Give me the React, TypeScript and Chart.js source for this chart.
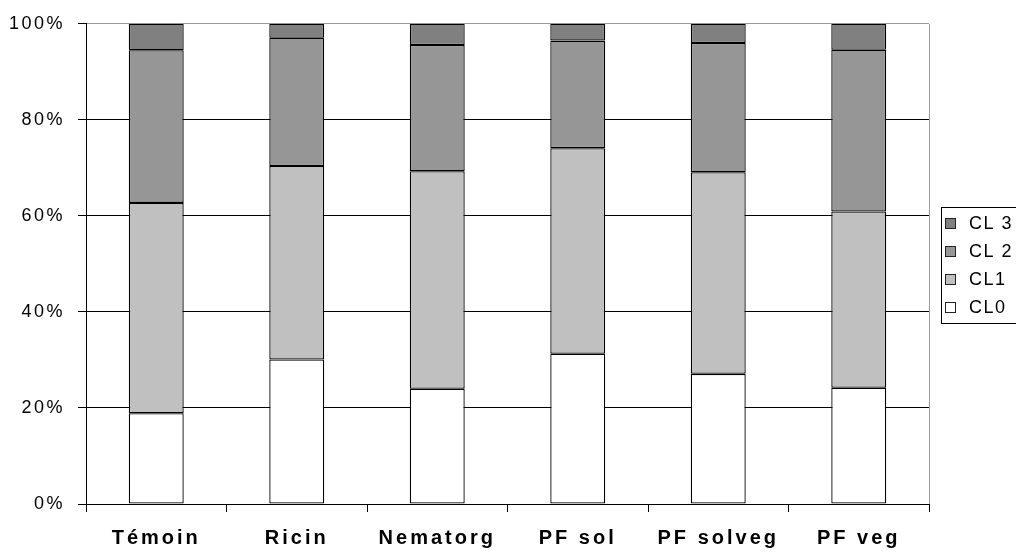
import React, { useEffect, useRef } from "react";
import { Chart, registerables } from "chart.js";

Chart.register(...registerables);

// ---- Data (percent of each class per treatment) ----
const categories = ["Témoin", "Ricin", "Nematorg", "PF sol", "PF solveg", "PF veg"];
const seriesLabels = ["CL0", "CL1", "CL 2", "CL 3"];
const cl0 = [18.9, 30.1, 24.0, 31.3, 27.1, 24.2];
const cl1 = [43.8, 40.3, 45.3, 42.8, 42.0, 36.7];
const cl2 = [31.8, 26.7, 26.3, 22.4, 26.9, 33.7];
const cl3 = [5.5, 2.9, 4.4, 3.5, 4.0, 5.4];
const yTickValues = [0, 20, 40, 60, 80, 100];

const seriesColors = ["#FFFFFF", "#C0C0C0", "#969696", "#808080"];
const FONT = "'Liberation Sans', Arial, sans-serif";

const decorPlugin = {
  id: "decor",
  beforeDraw(chart: any) {
    chart.ctx.letterSpacing = "2.5px"; // y tick labels
  },
  afterDatasetsDraw(chart: any) {
    chart.ctx.letterSpacing = "3px"; // x tick labels (z = 1)
  },
  afterDraw(chart: any) {
    const ctx = chart.ctx;
    const area = chart.chartArea;
    ctx.save();
    // grey plot-area border on the right side
    ctx.strokeStyle = "#999999";
    ctx.lineWidth = 1;
    ctx.beginPath();
    ctx.moveTo(Math.round(area.right) + 0.5, Math.round(area.top));
    ctx.lineTo(Math.round(area.right) + 0.5, Math.round(area.bottom));
    ctx.stroke();

    // legend (reverse order)
    const lx = Math.round(area.right) + 12;
    const firstY = 223;
    const step = 28;
    ctx.strokeStyle = "#000000";
    ctx.strokeRect(lx + 0.5, firstY - 16 + 0.5, 200, step * 3 + 32);
    ctx.letterSpacing = "1.5px";
    ctx.font = `18px ${FONT}`;
    ctx.textBaseline = "middle";
    ctx.textAlign = "left";
    const ds = chart.data.datasets;
    for (let k = 0; k < ds.length; k++) {
      const d = ds[ds.length - 1 - k];
      const cy = firstY + k * step;
      ctx.fillStyle = d.backgroundColor;
      ctx.fillRect(lx + 4, cy - 5, 11, 11);
      ctx.strokeStyle = "#222222";
      ctx.strokeRect(lx + 4.5, cy - 4.5, 10, 10);
      ctx.fillStyle = "#000000";
      ctx.fillText(d.label, lx + 28, cy + 1);
    }
    ctx.restore();
    ctx.letterSpacing = "0px";
  },
};

export default function App() {
  const canvasRef = useRef<HTMLCanvasElement | null>(null);

  useEffect(() => {
    if (!canvasRef.current) return;
    const series = [cl0, cl1, cl2, cl3];
    const chart = new Chart(canvasRef.current, {
      type: "bar",
      data: {
        labels: categories,
        datasets: series.map((values, i) => ({
          label: seriesLabels[i],
          data: values,
          backgroundColor: seriesColors[i],
          borderColor: "#000000",
          borderWidth: 1.3,
          borderSkipped: false,
          barPercentage: 0.391,
          categoryPercentage: 1,
        })),
      },
      options: {
        animation: false,
        responsive: true,
        maintainAspectRatio: false,
        devicePixelRatio: 1,
        layout: { padding: { left: 0, right: 87, top: 23, bottom: 0 } },
        plugins: {
          legend: { display: false },
          tooltip: { enabled: false },
          title: { display: false },
        },
        scales: {
          x: {
            stacked: true,
            offset: true,
            grid: {
              offset: true,
              drawOnChartArea: false,
              drawTicks: true,
              tickLength: 8,
              color: "#000000",
              tickColor: "#000000",
            },
            border: { display: true, color: "#000000", width: 1 },
            ticks: {
              z: 1,
              color: "#000000",
              padding: 14,
              maxRotation: 0,
              autoSkip: false,
              font: { family: FONT, size: 20, weight: "bold" },
            },
            afterFit: (scale: any) => {
              scale.height = 48;
            },
          },
          y: {
            stacked: true,
            min: 0,
            max: 100,
            afterBuildTicks: (scale: any) => {
              scale.ticks = yTickValues.map((v) => ({ value: v }));
            },
            grid: {
              drawTicks: true,
              tickLength: 8,
              color: (c: any) => (c.tick && c.tick.value === 100 ? "#999999" : "#000000"),
              tickColor: "#000000",
            },
            border: { display: true, color: "#000000", width: 1 },
            ticks: {
              color: "#000000",
              padding: 13,
              font: { family: FONT, size: 18 },
              callback: (v: any) => `${v}%`,
            },
            afterFit: (scale: any) => {
              scale.width = 86;
            },
          },
        },
      },
      plugins: [decorPlugin],
    });
    return () => chart.destroy();
  }, []);

  return (
    <div
      style={{
        position: "fixed",
        left: 0,
        top: 0,
        width: "1016px",
        height: "552px",
        background: "#ffffff",
      }}
    >
      <canvas ref={canvasRef} />
    </div>
  );
}
